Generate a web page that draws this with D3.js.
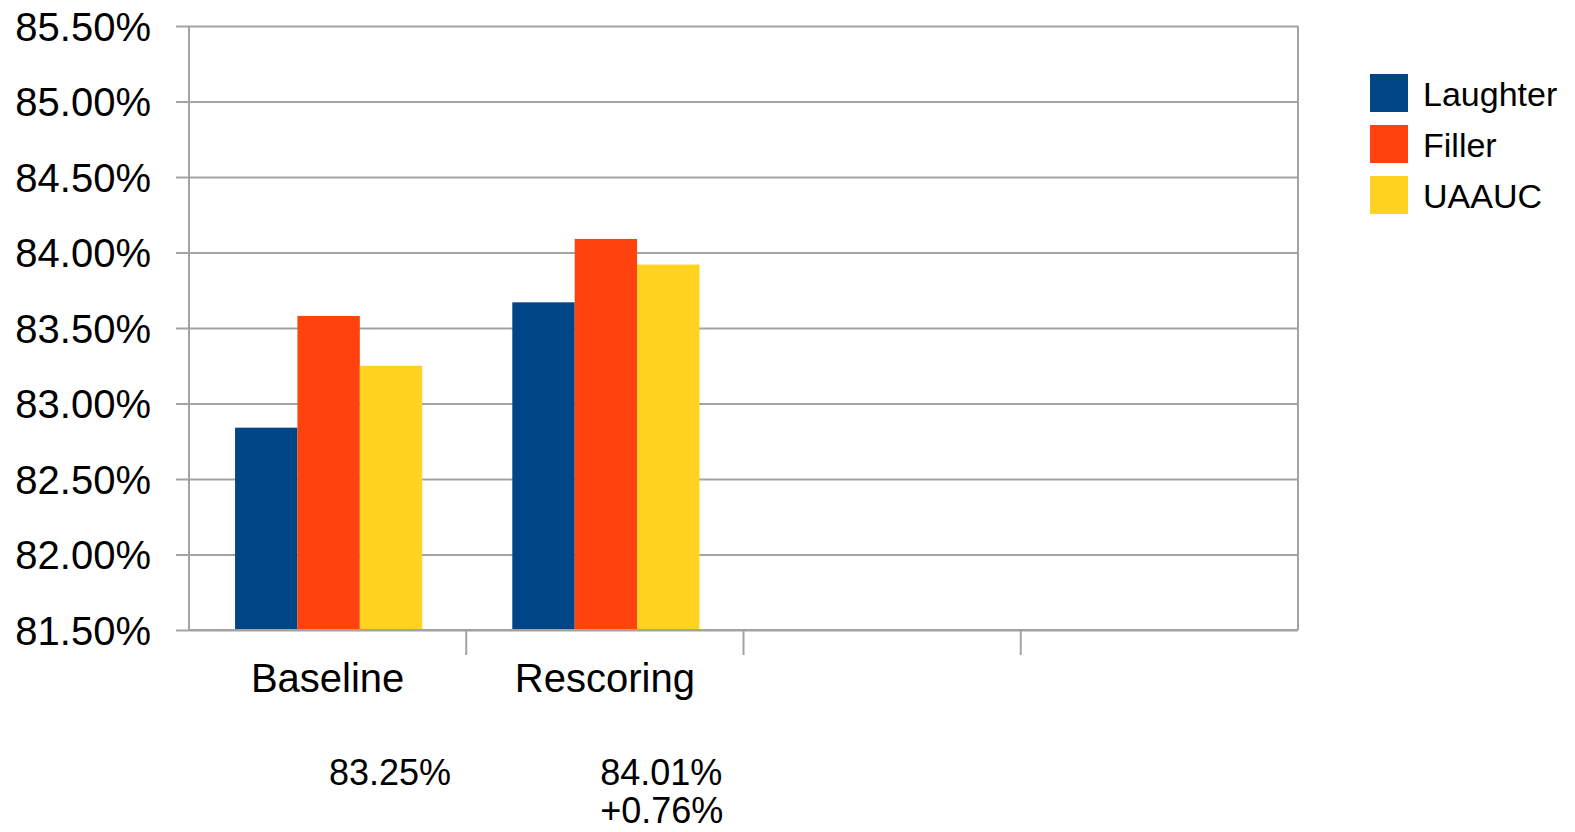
<!DOCTYPE html>
<html>
<head>
<meta charset="utf-8">
<script src="https://cdn.jsdelivr.net/npm/d3@7"></script>
<style>
  body { margin: 0; background: #fff; }
  svg { display: block; }
  text { font-family: "Liberation Sans", Arial, Helvetica, sans-serif; }
</style>
</head>
<body>
<svg id="chart" width="1575" height="832"></svg>
<script>
// chart data
var categories = ["Baseline", "Rescoring", "", ""];
var seriesNames = ["Laughter", "Filler", "UAAUC"];
var laughter = [82.84, 83.67];
var filler = [83.58, 84.09];
var uaauc = [83.25, 83.92];
var yTicks = [81.5, 82.0, 82.5, 83.0, 83.5, 84.0, 84.5, 85.0, 85.5];
var notes = [["83.25%"], ["84.01%", "+0.76%"]];
var colors = ["#004586", "#ff420e", "#ffd320"];

var series = [laughter, filler, uaauc];

var margin = { top: 26, left: 189, right: 277, bottom: 202 },
	width = 1575 - margin.left - margin.right,
	height = 832 - margin.top - margin.bottom;

var svg = d3.select("#chart");
var g = svg.append("g").attr("transform", "translate(" + margin.left + "," + margin.top + ")");

var y = d3.scaleLinear().domain([81.5, 85.5]).range([height, 0]);
var x0 = d3.scaleBand().domain(d3.range(categories.length)).range([0, width]);
var groupW = x0.bandwidth() * 0.675;
var x1 = d3.scaleBand().domain(seriesNames).range([0, groupW]);
var lineColor = "#a3a3a3";

//gridlines
var grid = g.append("g")
	.call(d3.axisLeft(y).tickValues(yTicks).tickSize(-width).tickFormat(""));
grid.select(".domain").remove();
grid.selectAll("line").attr("stroke", lineColor).attr("stroke-width", 2);

//left axis with labels
var yAxis = g.append("g")
	.call(d3.axisLeft(y).tickValues(yTicks).tickSize(13).tickPadding(25)
		.tickFormat(function (d) { return d.toFixed(2) + "%"; }));
yAxis.select(".domain").remove();
yAxis.selectAll("line").attr("stroke", lineColor).attr("stroke-width", 2);
yAxis.selectAll("text")
	.style("font-size", "40px")
	.attr("fill", "#000")
	.attr("dy", "0.36em");

//frame
g.append("line").attr("x1", 0).attr("x2", 0).attr("y1", 0).attr("y2", height)
	.attr("stroke", lineColor).attr("stroke-width", 2);
g.append("line").attr("x1", width).attr("x2", width).attr("y1", 0).attr("y2", height)
	.attr("stroke", lineColor).attr("stroke-width", 2);

//bars
var groups = g.selectAll(".group")
	.data(categories.slice(0, laughter.length))
	.enter().append("g")
	.attr("class", "group")
	.attr("transform", function (d, i) { return "translate(" + (x0(i) + (x0.bandwidth() - groupW) / 2 + 1) + ",0)"; });

groups.selectAll("rect")
	.data(function (d, i) { return seriesNames.map(function (n, k) { return { name: n, value: series[k][i], k: k }; }); })
	.enter().append("rect")
	.attr("x", function (d) { return x1(d.name); })
	.attr("width", x1.bandwidth())
	.attr("y", function (d) { return y(d.value); })
	.attr("height", function (d) { return height - y(d.value); })
	.attr("fill", function (d) { return colors[d.k]; });

//bottom axis line and category separators
g.append("line").attr("x1", 0).attr("x2", width).attr("y1", height).attr("y2", height)
	.attr("stroke", lineColor).attr("stroke-width", 2);
g.selectAll(".sep")
	.data(d3.range(1, categories.length))
	.enter().append("line")
	.attr("x1", function (d) { return x0(d); })
	.attr("x2", function (d) { return x0(d); })
	.attr("y1", height)
	.attr("y2", height + 25)
	.attr("stroke", lineColor).attr("stroke-width", 2);

//category labels
g.selectAll(".cat")
	.data(categories)
	.enter().append("text")
	.attr("x", function (d, i) { return x0(i) + x0.bandwidth() / 2; })
	.attr("y", height + 62)
	.attr("text-anchor", "middle")
	.style("font-size", "40px")
	.attr("fill", "#000")
	.text(function (d) { return d; });

//legend
var legend = svg.append("g").attr("transform", "translate(1370,74)");
var item = legend.selectAll(".item")
	.data(seriesNames)
	.enter().append("g")
	.attr("transform", function (d, i) { return "translate(0," + i * 51 + ")"; });
item.append("rect").attr("width", 38).attr("height", 38)
	.attr("fill", function (d, i) { return colors[i]; });
item.append("text").attr("x", 53).attr("y", 32)
	.style("font-size", "34px")
	.attr("fill", "#000")
	.text(function (d) { return d; });

//notes under the chart
var noteX = [x0(0) + 140, x0(1) + 134];
notes.forEach(function (lines, i) {
	var t = g.append("text")
		.attr("x", noteX[i])
		.attr("y", height + 155)
		.style("font-size", "36px")
		.attr("fill", "#000");
	lines.forEach(function (s, j) {
		t.append("tspan").attr("x", noteX[i]).attr("dy", j === 0 ? 0 : 38).text(s);
	});
});
</script>
</body>
</html>
